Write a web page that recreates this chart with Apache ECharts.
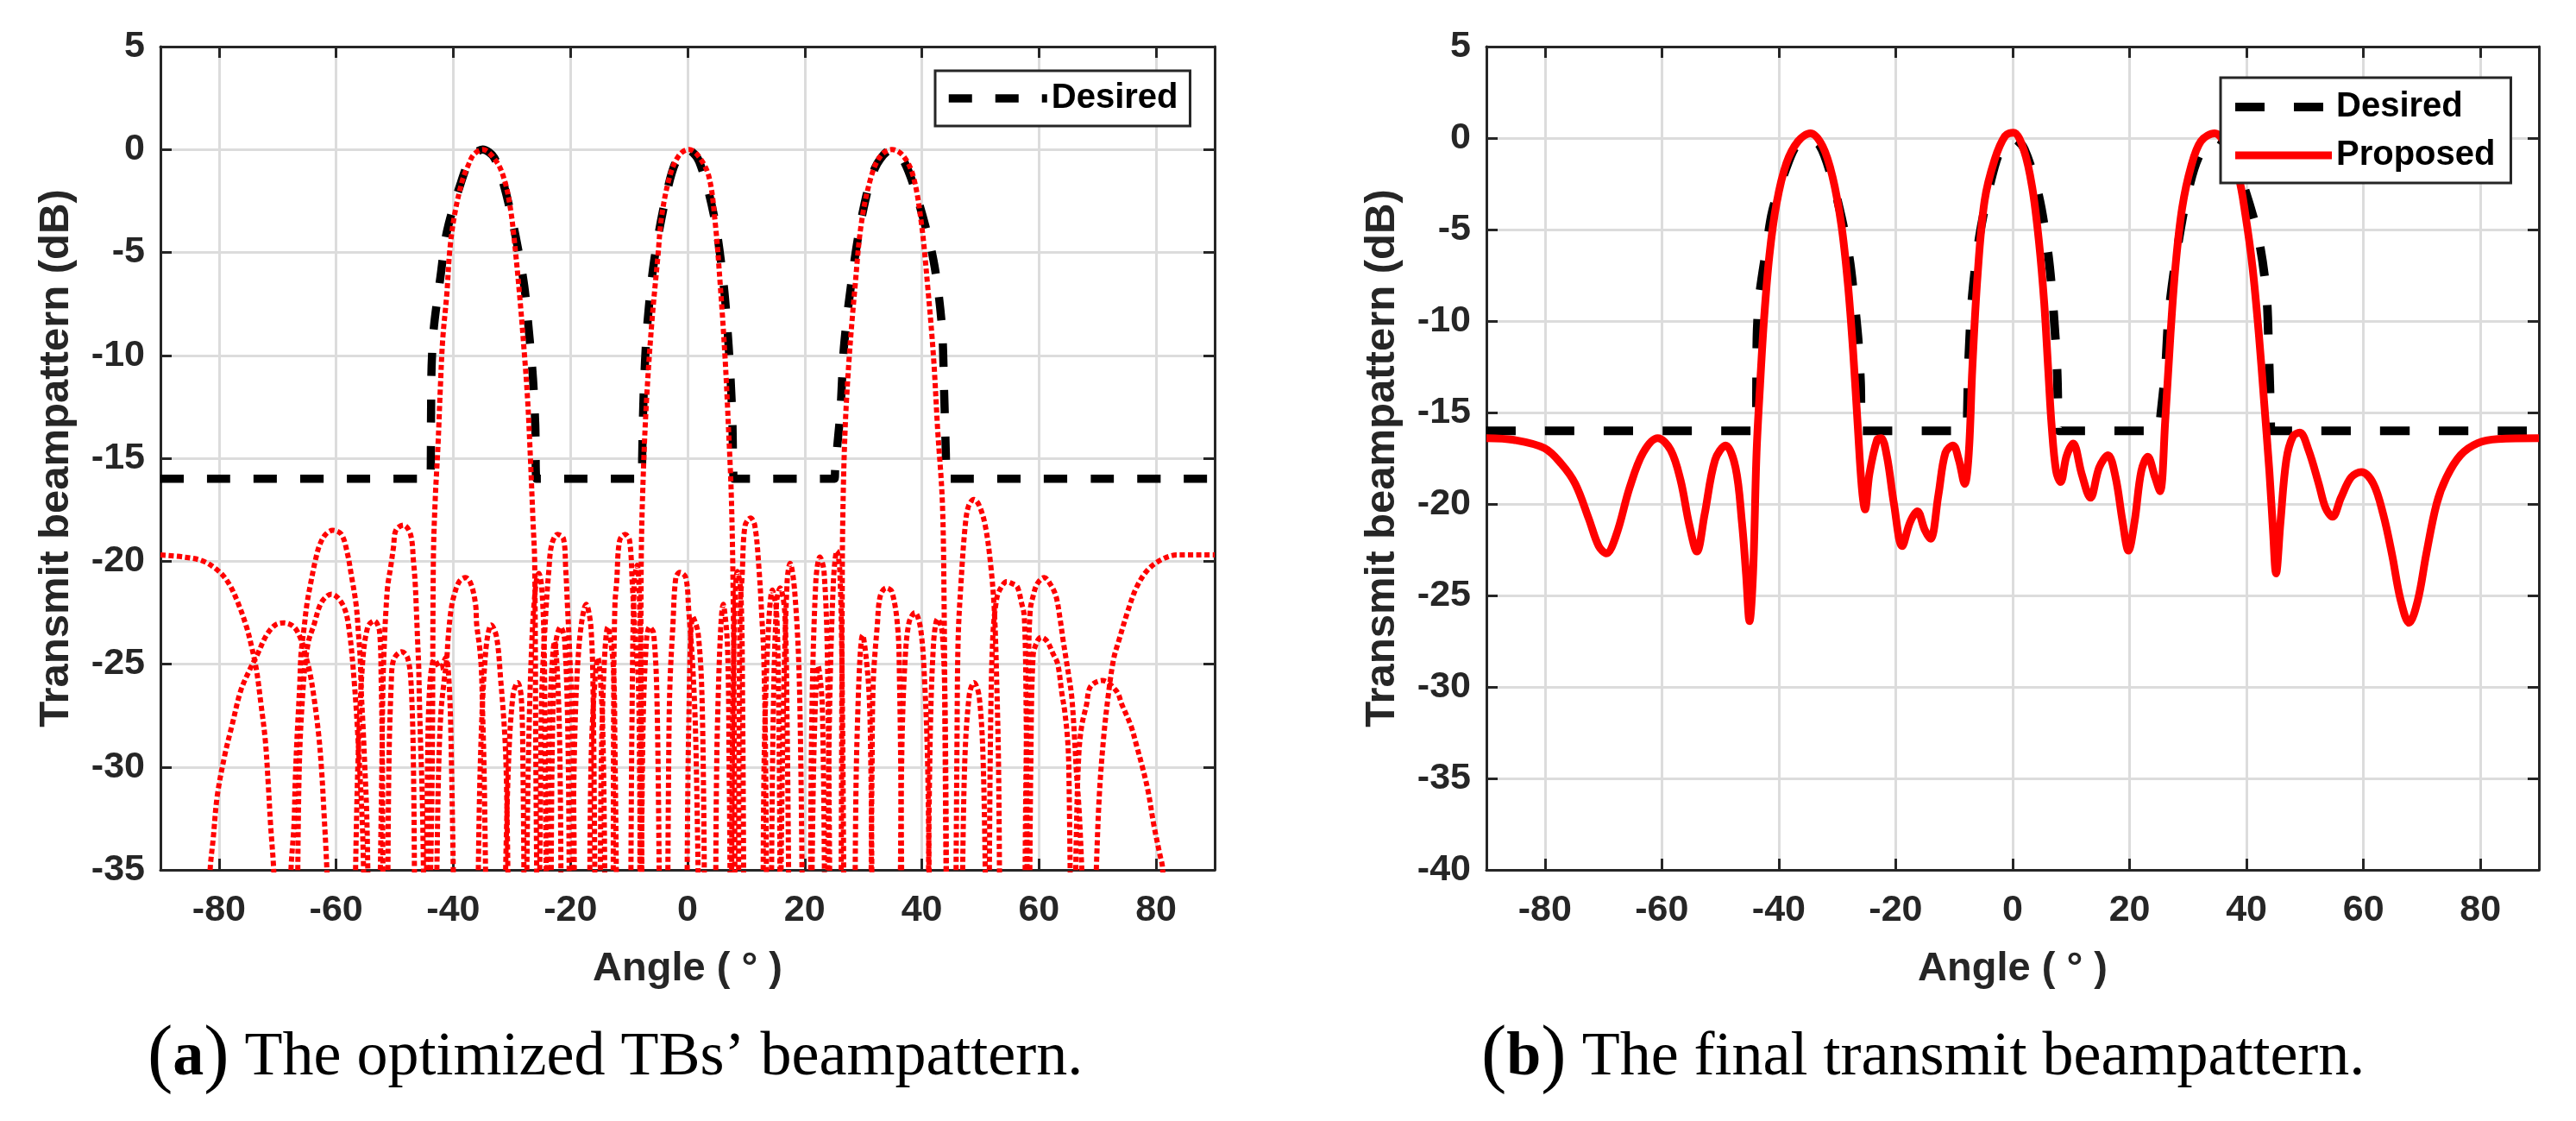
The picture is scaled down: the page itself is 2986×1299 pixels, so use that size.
<!DOCTYPE html>
<html>
<head>
<meta charset="utf-8">
<script src="https://cdn.jsdelivr.net/npm/echarts@6.0.0/dist/echarts.min.js"></script>
<style>
html,body{margin:0;padding:0;background:#fff;}
#chart{width:2986px;height:1299px;}
</style>
</head>
<body>
<div id="chart"></div>
<script>
// ---------- tick / axis values ----------
const angleMin = -90, angleMax = 90;
const leftDbMin = -35, rightDbMin = -40, dbMax = 5, dbStep = 5;

// ---------- desired beampattern (both panels) ----------
const desired = [
  [-90,-16],[-44.6,-16],[-43.9,-16],[-43.8,-13],[-43.7,-10.5],[-43.3,-8.6],[-42.2,-6.2],[-41.1,-4.0],[-38.8,-1.7],[-37,-0.4],[-35,0],
  [-33,-0.4],[-31.2,-1.9],[-29.3,-4.3],[-27.9,-6.6],[-27.1,-8.8],[-26.4,-11.1],[-26.0,-13.4],[-25.8,-16],[-25.2,-16],
  [-8.4,-16],[-7.8,-16],[-7.75,-15],[-7.5,-11.9],[-6.9,-8.6],[-5.7,-5.4],[-3.7,-2.3],[-2,-0.6],[0,0],[2,-0.6],[4.5,-3.2],
  [6.1,-6.4],[7.0,-9.5],[7.6,-12.7],[7.8,-15.5],[7.9,-16],[8.5,-16],
  [24.5,-16],[25.1,-16],[25.2,-15.5],[26.1,-12.7],[26.7,-9.6],[28.0,-6.4],[29.8,-3.2],[32.0,-0.9],[34.8,0],[37.0,-0.6],
  [39.4,-2.5],[42.0,-5.4],[43.4,-8.5],[43.8,-11.7],[44.1,-14.8],[44.2,-16],[44.8,-16],[90,-16]
];

// ---------- proposed final beampattern (panel b) ----------
const proposed = [
  [-90,-16.4],[-85.3,-16.5],[-80.1,-16.95],[-77.2,-17.8],[-74.8,-18.9],[-72.5,-20.8],[-70.8,-22.3],[-69.5,-22.7],
  [-67.8,-21.7],[-65.5,-19.1],[-63.2,-17.2],[-60.7,-16.4],[-58.5,-17.05],[-56.8,-18.7],[-55.3,-21.15],[-54.0,-22.6],
  [-52.7,-20.6],[-50.9,-17.6],[-49.1,-16.8],[-47.4,-18.0],[-46.3,-21.0],[-45.6,-23.8],[-45.0,-26.4],[-44.4,-23.8],
  [-43.8,-17.2],[-43.2,-13.5],[-42.5,-9.8],[-41.6,-6.4],[-40.4,-3.6],[-38.7,-1.38],[-36.7,-0.17],[-34.6,0.26],
  [-32.5,-0.45],[-30.8,-2.13],[-29.3,-4.74],[-28.2,-7.9],[-27.3,-11.6],[-26.5,-15.7],[-25.8,-19.1],[-25.25,-20.3],
  [-24.5,-18.35],[-23.2,-16.5],[-22.5,-16.4],[-21.5,-17.4],[-20.3,-20.0],[-18.9,-22.3],[-17.55,-21.0],[-16.3,-20.4],
  [-15.05,-21.4],[-14.05,-21.9],[-12.7,-19.5],[-11.5,-17.2],[-10.2,-16.8],[-9.2,-17.6],[-8.2,-18.9],[-7.5,-17.2],
  [-6.9,-12.6],[-6.0,-7.5],[-4.8,-3.43],[-3.1,-1.2],[-1.3,0.11],[0.13,0.3],[1.9,-0.64],[3.34,-2.69],[4.5,-5.67],
  [5.4,-9.03],[6.1,-12.76],[6.67,-15.74],[7.43,-18.2],[8.2,-18.8],[9.2,-17.4],[10.35,-16.7],[11.8,-18.35],
  [13.3,-19.66],[14.8,-18.0],[16.3,-17.33],[17.6,-18.54],[18.8,-20.96],[19.8,-22.55],[20.85,-20.96],[22.0,-18.2],
  [23.1,-17.42],[24.35,-18.54],[25.2,-19.3],[26.1,-15.4],[27.0,-10.7],[27.85,-7.0],[29.0,-3.8],[30.5,-1.57],
  [32.2,-0.17],[34.55,0.26],[36.9,-0.64],[38.65,-2.13],[39.8,-4.18],[41.0,-7.0],[42.1,-10.7],[43.0,-14.4],
  [43.9,-18.2],[44.5,-21.3],[45.05,-23.8],[45.8,-21.0],[46.8,-17.6],[47.95,-16.3],[49.1,-16.1],[50.6,-17.05],
  [52.35,-18.9],[53.5,-20.2],[54.7,-20.7],[56.15,-19.66],[57.9,-18.54],[59.65,-18.26],[61.7,-18.9],[63.4,-20.6],
  [64.9,-22.8],[66.35,-25.25],[67.8,-26.5],[69.3,-25.25],[70.7,-22.8],[72.5,-20.0],[74.2,-18.54],[76.6,-17.33],
  [79.5,-16.68],[83.0,-16.45],[90,-16.4]
];

// ---------- optimized TBs' beampatterns (panel a): main lobes ----------
const tbMainLobes = [
  [[-44.0,-37],[-43.6,-30],[-43.4,-19.9],[-43.1,-17.1],[-42.6,-14.3],[-42.2,-11.5],[-41.8,-9.2],[-41.1,-7.0],[-40.6,-4.9],
   [-39.8,-3.2],[-38.5,-1.55],[-37.5,-0.8],[-36.5,-0.24],[-35.0,0],[-32.6,-0.6],[-31.2,-1.55],[-30.25,-2.86],[-29.6,-4.35],
   [-28.7,-7.0],[-27.95,-9.6],[-27.3,-12.2],[-26.8,-15.2],[-26.4,-18.0],[-26.1,-20.1],[-25.9,-30],[-25.7,-37]],
  [[-8.2,-37],[-8.0,-28],[-7.9,-19.7],[-7.5,-15.3],[-6.95,-11.9],[-6.1,-8.4],[-5.1,-5.3],[-4.4,-3.2],[-3.0,-1.27],
   [-1.5,-0.3],[0.2,0],[1.8,-0.3],[3.6,-1.27],[4.7,-3.5],[5.6,-6.65],[6.4,-10.1],[7.0,-13.6],[7.5,-17.1],[7.8,-22],[8.0,-30],[8.1,-37]],
  [[26.2,-37],[26.3,-30],[26.4,-22],[26.5,-18.0],[26.9,-13.6],[27.6,-10.1],[28.6,-6.65],[29.7,-3.53],[31.4,-1.27],[33,-0.3],
   [34.9,0],[36.8,-0.3],[38.5,-1.27],[39.9,-3.53],[41.0,-6.65],[42.0,-10.1],[42.7,-13.6],[43.5,-17.1],[43.8,-22],[44.0,-30],[44.2,-37]]
];

// end-fire lobes reaching the +-90 deg edges
const tbEdgeLobes = [
  [[-90,-19.7],[-86,-19.8],[-82.7,-20.0],[-80,-20.5],[-78.3,-21.1],[-76.8,-22.0],[-75.3,-23.2],[-74.4,-24.2],[-73.6,-25.3],
   [-72.9,-26.8],[-72.1,-28.7],[-71.6,-30.8],[-71.2,-32.8],[-70.7,-34.8],[-70.4,-37]],
  [[69.6,-37],[69.8,-34.9],[70.3,-31.4],[71.0,-28.7],[71.8,-26.6],[72.75,-24.75],[73.7,-23.8],[75.2,-22.4],[76.7,-21.25],
   [78.65,-20.4],[81.1,-19.9],[83.6,-19.7],[90,-19.7]]
];

// side lobes, west part
const tbWestLobes = [
  [[-81.8,-37],[-81.5,-34.9],[-81.0,-33.5],[-80.3,-31.4],[-79.0,-29.4],[-77.8,-28.0],[-76.3,-26.3],[-74.8,-25.3],[-73.4,-24.5],
   [-71.9,-23.6],[-70.4,-23.1],[-68.9,-23.0],[-67.2,-23.2],[-66.0,-23.8],[-65.3,-24.5],[-64.5,-25.4],[-63.8,-26.6],[-63.0,-28.4],
   [-62.5,-30.1],[-62.1,-32.1],[-61.6,-34.9],[-61.4,-37]],
  [[-67.9,-37],[-67.7,-34.9],[-67.2,-32.8],[-67.0,-30.8],[-66.7,-28.7],[-66.2,-25.9],[-66.0,-24.5],[-65.5,-23.3],[-65.0,-22.1],
   [-64.3,-21.0],[-63.5,-19.9],[-62.8,-19.2],[-61.8,-18.7],[-60.6,-18.5],[-59.1,-18.7],[-58.1,-19.6],[-57.4,-20.7],[-56.6,-22.1],
   [-56.2,-23.5],[-55.9,-24.7],[-55.7,-26.4],[-55.4,-28.1],[-55.1,-30.05],[-54.8,-32.1],[-54.6,-34.9],[-54.5,-37]],
  [[-66.6,-37],[-66.3,-30],[-65.6,-26],[-64.8,-24],[-63.8,-23.1],[-62.5,-22.0],[-60.8,-21.6],[-58.9,-22.1],[-57.9,-23.1],
   [-56.9,-25.9],[-56.2,-29],[-55.5,-33],[-55.2,-37]],
  [[-56.8,-37],[-56.3,-30],[-55.5,-25],[-54.6,-23.2],[-53.5,-22.9],[-52.6,-23.4],[-52.3,-26],[-52.1,-30],[-52.0,-37]],
  [[-52.6,-37],[-52.45,-34.9],[-52.2,-30],[-52.0,-25.9],[-51.7,-23.5],[-51.5,-22.4],[-51.2,-21.2],[-50.7,-20.3],[-50.2,-19.3],
   [-49.8,-18.5],[-48.5,-18.25],[-47.3,-18.7],[-46.8,-20.0],[-46.5,-21.1],[-46.3,-22.4],[-46.1,-23.8],[-45.9,-25.2],[-45.8,-26.6],
   [-45.6,-28.7],[-45.3,-31.4],[-45.1,-34.9],[-45.0,-37]],
  [[-51.2,-37],[-51.0,-30],[-50.6,-26],[-50.2,-24.8],[-48.8,-24.4],[-47.8,-24.7],[-47.2,-26],[-46.8,-30],[-46.6,-37]],
  [[-44.6,-37],[-44.4,-30],[-44.0,-26],[-43.2,-24.8],[-42.2,-25.2],[-41.3,-24.7],[-40.7,-26],[-40.3,-30],[-39.9,-37]],
  [[-42.9,-37],[-42.8,-34.9],[-42.5,-30.05],[-42.1,-27.3],[-41.6,-25.9],[-41.1,-24.7],[-40.9,-23.8],[-40.4,-22.4],[-39.9,-21.7],
   [-39.0,-21.0],[-37.9,-20.8],[-37.0,-21.1],[-36.2,-22.1],[-36.0,-23.1],[-35.5,-24.2],[-35.2,-25.3],[-35.0,-27.3],[-34.75,-30.05],
   [-34.5,-34.9],[-34.4,-37]],
  [[-35.8,-37],[-35.4,-30],[-34.5,-24.5],[-33.5,-23.1],[-32.6,-23.7],[-31.9,-25.8],[-31.2,-28.5],[-30.9,-31],[-30.6,-37]],
  [[-31.2,-37],[-30.6,-30],[-29.8,-26.5],[-29.0,-25.9],[-28.4,-26.6],[-28.1,-30],[-27.9,-37]]
];

// side lobes, centre part
const tbCentreLobes = [
  [[-27.5,-37],[-27.2,-30],[-26.6,-24],[-25.9,-21.1],[-25.4,-20.6],[-24.9,-21.3],[-24.5,-24],[-24.3,-30],[-24.1,-37]],
  [[-25.3,-37],[-25.1,-31],[-24.9,-26.5],[-24.2,-22.5],[-23.7,-20.5],[-23.2,-19.2],[-22.2,-18.7],[-21.2,-18.9],[-20.8,-20.4],
   [-20.5,-22.2],[-20.2,-24.0],[-19.6,-28.5],[-19.3,-37]],
  [[-23.3,-37],[-23.1,-29],[-22.5,-24],[-21.7,-23.2],[-21.0,-23.8],[-20.4,-29],[-20.2,-37]],
  [[-24.0,-37],[-23.6,-28],[-22.7,-23.9],[-21.9,-28],[-21.6,-37]],
  [[-19.6,-37],[-19.3,-29],[-18.5,-24],[-17.3,-22.1],[-16.5,-23.2],[-16.1,-27],[-15.8,-37]],
  [[-16.7,-37],[-16.4,-29],[-15.3,-24.7],[-14.5,-28],[-14.1,-37]],
  [[-14.9,-37],[-14.6,-28],[-13.6,-23.2],[-12.7,-25],[-12.4,-29],[-12.1,-37]],
  [[-12.7,-37],[-12.6,-26],[-12.4,-22.1],[-12.1,-21.0],[-11.6,-19.0],[-10.65,-18.7],[-9.9,-19.0],[-9.4,-21.3],[-8.9,-23.8],
   [-8.4,-25.9],[-8.2,-30],[-8.0,-37]],
  [[-9.7,-37],[-9.5,-28],[-9.1,-21],[-8.6,-20.2],[-8.2,-22],[-7.9,-28],[-7.8,-37]],
  [[-7.9,-37],[-7.6,-28],[-7.0,-23.8],[-6.5,-23.2],[-5.8,-23.5],[-5.2,-27],[-4.8,-37]],
  [[-3.4,-37],[-3.2,-29],[-3.0,-25.9],[-2.5,-23.1],[-2.0,-20.8],[-1.3,-20.55],[-0.3,-20.8],[0.2,-22.4],[0.9,-25.2],[1.4,-28.7],[1.9,-37]],
  [[-0.1,-37],[0.2,-28],[0.9,-22.7],[1.8,-23.5],[2.5,-27],[2.9,-37]],
  [[4.8,-37],[5.1,-28],[6.1,-22.1],[6.8,-24],[7.1,-30],[7.3,-37]],
  [[7.5,-37],[7.7,-28],[8.1,-22],[8.5,-20.5],[9.1,-21.5],[9.4,-27],[9.6,-37]],
  [[8.7,-37],[8.8,-28],[9.0,-22.0],[9.3,-20.8],[9.8,-18.3],[10.75,-17.9],[11.5,-18.3],[12.2,-20.4],[12.7,-22.8],[13.0,-24.5],[13.3,-29],[13.5,-37]],
  [[12.9,-37],[13.2,-28],[14.5,-21.4],[15.2,-22.5],[15.6,-28],[15.8,-37]],
  [[14.3,-37],[14.6,-28],[15.2,-22],[15.8,-21.3],[16.6,-22.5],[17.0,-28],[17.3,-37]],
  [[15.9,-37],[16.3,-28],[17.0,-21],[17.5,-20.1],[18.3,-21.5],[19.1,-26],[19.6,-37]],
  [[21.0,-37],[21.2,-28],[21.9,-21],[22.6,-19.8],[23.3,-20.5],[23.9,-25],[24.3,-37]],
  [[23.9,-37],[24.2,-28],[24.9,-21],[25.5,-19.5],[26.0,-20.5],[26.4,-26],[26.7,-37]],
  [[21.2,-37],[21.6,-29],[22.3,-25.1],[23.0,-27],[23.4,-37]],
  [[28.6,-37],[28.9,-29],[29.9,-23.6],[30.9,-26],[31.3,-30],[31.5,-37]]
];

// side lobes, east part
const tbEastLobes = [
  [[31.3,-37],[31.5,-30],[31.7,-25.9],[32.4,-23.1],[32.9,-21.7],[33.9,-21.3],[34.9,-21.5],[35.9,-23.3],[36.2,-26],[36.4,-30],[36.6,-37]],
  [[36.3,-37],[36.6,-29],[37.1,-25],[37.8,-23],[38.8,-22.5],[39.8,-23.3],[40.5,-26],[41.0,-30],[41.3,-37]],
  [[41.1,-37],[41.4,-29],[42.0,-24],[42.7,-22.8],[43.5,-23.5],[44.0,-28],[44.2,-37]],
  [[45.8,-37],[46.0,-29],[46.2,-23.8],[46.7,-21.0],[47.4,-18.3],[48.0,-17.3],[48.9,-17.0],[49.8,-17.3],[50.85,-18.3],[51.8,-20.3],
   [52.4,-22.5],[52.8,-26],[53.1,-30],[53.3,-37]],
  [[46.9,-37],[47.3,-30],[48.1,-26.5],[48.9,-25.9],[49.8,-26.6],[50.5,-30],[50.9,-37]],
  [[51.5,-37],[51.7,-29],[52.1,-23.8],[52.8,-21.8],[53.6,-21.25],[54.5,-21.0],[55.5,-21.1],[56.3,-21.25],[57.0,-22.0],[57.5,-22.7],
   [57.8,-27],[58.0,-37]],
  [[57.6,-37],[57.8,-30],[58.2,-25],[58.5,-22.4],[59.0,-21.7],[59.7,-21.1],[60.9,-20.8],[61.9,-21.1],[62.9,-21.7],[63.6,-22.8],
   [64.1,-23.8],[64.6,-24.7],[65.1,-25.6],[65.6,-26.6],[66.1,-28.7],[66.35,-30.05],[66.85,-32.1],[67.3,-34.9],[67.5,-37]],
  [[58.4,-37],[58.6,-30],[59.0,-24.6],[59.7,-23.9],[60.4,-23.7],[61.4,-23.9],[62.4,-24.5],[63.2,-25.0],[63.9,-26.4],[64.4,-27.3],
   [64.9,-28.7],[65.1,-30.05],[65.4,-37]],
  [[66.2,-37],[66.4,-33],[66.8,-29.4],[67.3,-28.0],[68.1,-27.0],[68.8,-26.1],[70.8,-25.8],[73.2,-26.3],[74.2,-27.0],[75.7,-28.0],
   [76.7,-29.0],[77.7,-30.05],[78.65,-31.2],[79.6,-32.8],[80.6,-34.2],[81.1,-34.9],[81.3,-37]]
];

// ---------- texts ----------
const xAxisTitle = 'Angle ( ° )';
const yAxisTitle = 'Transmit beampattern (dB)';
const captionA = ['a', ' The optimized TBs’ beampattern.'];
const captionB = ['b', ' The final transmit beampattern.'];

// ---------- styling ----------
const INK = '#262626';
const GRIDC = '#dcdcdc';
const SANS = 'Liberation Sans';
const SERIF = 'Liberation Serif';

const desiredStyleA = {color: '#000', width: 9.5, type: [27, 27], cap: 'butt'};
const desiredStyleB = {color: '#000', width: 10, type: [34, 34], cap: 'butt'};
const proposedStyle = {color: '#ff0000', width: 9, type: 'solid', join: 'round'};
const tbStyle = {color: '#ff0000', width: 6, type: [6, 3.5], cap: 'butt', join: 'round'};

function xAxisBottom(grid) {
  return {
    gridIndex: grid, type: 'value', position: 'bottom', min: angleMin, max: angleMax, splitNumber: 9,
    name: xAxisTitle, nameLocation: 'middle', nameGap: 92,
    nameTextStyle: {fontFamily: SANS, fontWeight: 'bold', fontSize: 47, color: INK},
    axisLine: {show: true, onZero: false, lineStyle: {color: INK, width: 3}},
    axisTick: {show: true, inside: true, length: 13, lineStyle: {color: INK, width: 3}},
    splitLine: {show: true, lineStyle: {color: GRIDC, width: 3}},
    axisLabel: {show: true, margin: 26, showMinLabel: false, showMaxLabel: false,
      fontFamily: SANS, fontWeight: 'bold', fontSize: 43, color: INK}
  };
}
function xAxisTop(grid) {
  return {
    gridIndex: grid, type: 'value', position: 'top', min: angleMin, max: angleMax, splitNumber: 9,
    axisLine: {show: true, onZero: false, lineStyle: {color: INK, width: 3}},
    axisTick: {show: true, inside: true, length: 13, lineStyle: {color: INK, width: 3}},
    splitLine: {show: false}, axisLabel: {show: false}
  };
}
function yAxisLeft(grid, min) {
  return {
    gridIndex: grid, type: 'value', position: 'left', min: min, max: dbMax, interval: dbStep,
    name: yAxisTitle, nameLocation: 'middle', nameGap: 96,
    nameTextStyle: {fontFamily: SANS, fontWeight: 'bold', fontSize: 49, color: INK},
    axisLine: {show: true, onZero: false, lineStyle: {color: INK, width: 3}},
    axisTick: {show: true, inside: true, length: 13, lineStyle: {color: INK, width: 3}},
    splitLine: {show: true, lineStyle: {color: GRIDC, width: 3}},
    axisLabel: {show: true, margin: 18, fontFamily: SANS, fontWeight: 'bold', fontSize: 43, color: INK}
  };
}
function yAxisRight(grid, min) {
  return {
    gridIndex: grid, type: 'value', position: 'right', min: min, max: dbMax, interval: dbStep,
    axisLine: {show: true, onZero: false, lineStyle: {color: INK, width: 3}},
    axisTick: {show: true, inside: true, length: 13, lineStyle: {color: INK, width: 3}},
    splitLine: {show: false}, axisLabel: {show: false}
  };
}

const tbAll = [].concat(tbMainLobes, tbEdgeLobes, tbWestLobes, tbCentreLobes, tbEastLobes);
const tbSeries = tbAll.map((pts, i) => ({
  name: 'TB ' + (i + 1), type: 'line', xAxisIndex: 0, yAxisIndex: 0, data: pts,
  smooth: 0.35, symbol: 'none', silent: true, z: 4, clip: true,
  itemStyle: {color: '#ff0000'}, lineStyle: tbStyle
}));

function captionTitle(parts, left) {
  return {
    text: '{p|(}{b|' + parts[0] + '}{p|)}{t|' + parts[1] + '}',
    left: left, top: 1181, padding: 0,
    textStyle: {
      fontWeight: 'normal', fontFamily: SERIF, color: '#000',
      rich: {
        p: {fontFamily: SERIF, fontWeight: 'normal', fontSize: 88, lineHeight: 90, color: '#000', verticalAlign: 'middle'},
        b: {fontFamily: SERIF, fontWeight: 'bold', fontSize: 72, lineHeight: 90, color: '#000', verticalAlign: 'middle'},
        t: {fontFamily: SERIF, fontWeight: 'normal', fontSize: 72, lineHeight: 90, color: '#000', verticalAlign: 'middle'}
      }
    }
  };
}

const legendCommon = {
  textStyle: {fontFamily: SANS, fontWeight: 'bold', fontSize: 40, color: '#000'},
  borderColor: INK, borderWidth: 3, borderRadius: 0, backgroundColor: '#ffffff',
  itemHeight: 40, selectedMode: false, z: 20
};
const hiddenSymbol = {opacity: 0};

const option = {
  backgroundColor: '#ffffff',
  animation: false,
  title: [captionTitle(captionA, 171), captionTitle(captionB, 1717)],
  grid: [
    {left: 186, top: 54, width: 1222, height: 954, containLabel: false},
    {left: 1723, top: 54, width: 1220, height: 954, containLabel: false}
  ],
  legend: [
    Object.assign({}, legendCommon, {
      data: [{name: 'Desired', itemStyle: hiddenSymbol, lineStyle: desiredStyleA}],
      left: 1084, top: 82, padding: [12, 14, 12, 11], itemWidth: 114}),
    Object.assign({}, legendCommon, {
      data: [{name: 'Desired', itemStyle: hiddenSymbol, lineStyle: desiredStyleB},
             {name: 'Proposed', itemStyle: hiddenSymbol, lineStyle: proposedStyle}],
      left: 2574, top: 90, orient: 'vertical', itemGap: 16, padding: [14, 18, 12, 12], itemWidth: 112})
  ],
  xAxis: [xAxisBottom(0), xAxisTop(0), xAxisBottom(1), xAxisTop(1)],
  yAxis: [yAxisLeft(0, leftDbMin), yAxisRight(0, leftDbMin), yAxisLeft(1, rightDbMin), yAxisRight(1, rightDbMin)],
  series: [
    {name: 'Desired', type: 'line', xAxisIndex: 0, yAxisIndex: 0, data: desired, smooth: 0.3, symbol: 'none',
     silent: true, z: 3, itemStyle: {color: '#000'}, lineStyle: desiredStyleA},
    ...tbSeries,
    {name: 'Desired', type: 'line', xAxisIndex: 2, yAxisIndex: 2, data: desired, smooth: 0.3, symbol: 'none',
     silent: true, z: 3, itemStyle: {color: '#000'}, lineStyle: desiredStyleB},
    {name: 'Proposed', type: 'line', xAxisIndex: 2, yAxisIndex: 2, data: proposed, smooth: 0.35, symbol: 'none',
     silent: true, z: 4, itemStyle: {color: '#ff0000'}, lineStyle: proposedStyle}
  ]
};

const chart = echarts.init(document.getElementById('chart'), null, {renderer: 'canvas'});
chart.setOption(option);
</script>
</body>
</html>
